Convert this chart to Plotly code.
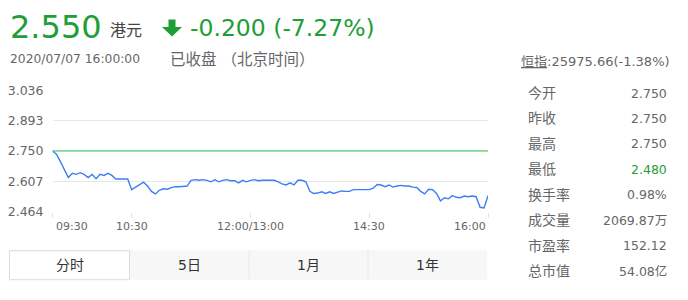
import plotly.graph_objects as go

# ---------------- data ----------------
minutes = list(range(0, 331, 3))
prices = [
    2.750, 2.735, 2.700, 2.660, 2.625, 2.645, 2.640, 2.648, 2.640, 2.625,
    2.640, 2.620, 2.640, 2.635, 2.645, 2.635, 2.618, 2.618, 2.618, 2.618,
    2.568, 2.580, 2.590, 2.603, 2.585, 2.560, 2.548, 2.565, 2.572, 2.570,
    2.578, 2.582, 2.582, 2.582, 2.585, 2.612, 2.615, 2.612, 2.615, 2.612,
    2.605, 2.615, 2.605, 2.612, 2.615, 2.610, 2.610, 2.600, 2.612, 2.605,
    2.612, 2.615, 2.610, 2.612, 2.612, 2.612, 2.612, 2.605, 2.595, 2.590,
    2.600, 2.590, 2.612, 2.612, 2.605, 2.560, 2.550, 2.552, 2.558, 2.550,
    2.558, 2.550, 2.555, 2.562, 2.560, 2.560, 2.568, 2.568, 2.568, 2.568,
    2.568, 2.575, 2.592, 2.590, 2.582, 2.590, 2.580, 2.585, 2.588, 2.585,
    2.585, 2.580, 2.578, 2.560, 2.548, 2.570, 2.568, 2.550, 2.515, 2.530,
    2.525, 2.540, 2.532, 2.530, 2.538, 2.535, 2.538, 2.535, 2.485, 2.482,
    2.540,
]
prev_close = 2.750
y_ticks = [2.464, 2.607, 2.750, 2.893, 3.036]
x_tick_minutes = [0, 60, 150, 240, 330]
x_tick_labels = ["09:30", "10:30", "12:00/13:00", "14:30", "16:00"]

price_now = "2.550"
currency = "港元"
change_text = "-0.200 (-7.27%)"
time_text = "2020/07/07 16:00:00"
status_text = "已收盘 （北京时间）"
index_text = "<u>恒指</u>:25975.66(-1.38%)"
stat_labels = ["今开", "昨收", "最高", "最低", "换手率", "成交量", "市盈率", "总市值"]
stat_values = ["2.750", "2.750", "2.750", "2.480", "0.98%", "2069.87万", "152.12", "54.08亿"]
tabs = ["分时", "5日", "1月", "1年"]

# ---------------- styling ----------------
W, H = 688, 300
GREEN = "#1e9e36"
LINE_GREEN = "#33c552"
BLUE = "#3d7ef5"
GREY = "#666666"
FONT = "'DejaVu Sans', 'Noto Sans CJK SC', sans-serif"


def px(x):
    return x / W


def py(y):
    return 1 - y / H


fig = go.Figure()
fig.add_trace(go.Scatter(x=[x_tick_minutes[0], x_tick_minutes[-1]], y=[prev_close, prev_close],
                         mode="lines", line=dict(color=LINE_GREEN, width=1.2), hoverinfo="skip"))
fig.add_trace(go.Scatter(x=minutes, y=prices, mode="lines",
                         line=dict(color=BLUE, width=1.4), hoverinfo="skip"))

fig.update_layout(
    width=W, height=H, margin=dict(l=0, r=0, t=0, b=0),
    paper_bgcolor="white", plot_bgcolor="white", showlegend=False,
    font=dict(family=FONT, color=GREY),
    xaxis=dict(domain=[px(52.5), px(488)], range=[x_tick_minutes[0], x_tick_minutes[-1]],
               tickvals=x_tick_minutes, showticklabels=False, ticks="outside", ticklen=5,
               tickcolor="#e3e3e3", showgrid=False, zeroline=False, showline=False, fixedrange=True),
    yaxis=dict(domain=[py(214.5), py(86.5)], range=[y_ticks[0], y_ticks[-1]],
               tickvals=y_ticks, ticktext=[f"{v:.3f}" for v in y_ticks],
               tickfont=dict(size=12.5, color=GREY), ticks="", ticklabelstandoff=8,
               showgrid=True, gridcolor="#e8e8e8", gridwidth=1, zeroline=False, showline=False,
               fixedrange=True),
)

ann = []
# x tick labels
anchors = ["left", "center", "center", "center", "right"]
for m, lab, a in zip(x_tick_minutes, x_tick_labels, anchors):
    ann.append(dict(x=m, y=py(230), xref="x", yref="paper", text=lab, showarrow=False,
                    xanchor=a, yanchor="middle", xshift=1 if a == "left" else 0,
                    font=dict(size=11, color=GREY)))


def txt(x, y, text, size, color=GREY, anchor="left"):
    ann.append(dict(x=px(x), y=py(y), xref="paper", yref="paper", text=text, showarrow=False,
                    xanchor=anchor, yanchor="middle", font=dict(size=size, color=color)))


# header
txt(8, 20, price_now, 32, GREEN)
txt(108, 23.5, currency, 16, "#444444")
txt(188, 21, change_text, 23.5, GREEN)
txt(8, 54, time_text, 12.3)
txt(168, 54, status_text, 15.5)

# right panel
txt(519, 56, index_text, 13)
for i, (lab, val) in enumerate(zip(stat_labels, stat_values)):
    yy = 89.5 + 26.8 * i
    txt(526, yy, lab, 14)
    txt(669, yy, val, 12.5, GREEN if lab == "最低" else GREY, "right")

# tabs
tab_edges = [9.5, 129.5, 249, 368, 487]
shapes = []
shapes.append(dict(type="rect", xref="paper", yref="paper", x0=px(tab_edges[1]), x1=px(tab_edges[-1]),
                   y0=py(286), y1=py(255), fillcolor="#f7f7f7", line=dict(width=0), layer="below"))
for xe in tab_edges[2:4]:
    shapes.append(dict(type="line", xref="paper", yref="paper", x0=px(xe), x1=px(xe),
                       y0=py(286), y1=py(255), line=dict(color="#e8e8e8", width=1)))
shapes.append(dict(type="rect", xref="paper", yref="paper", x0=px(tab_edges[0]), x1=px(tab_edges[1]),
                   y0=py(286), y1=py(255.5), fillcolor="white", line=dict(color="#dcdcdc", width=1)))
for i, t in enumerate(tabs):
    cx = (tab_edges[i] + tab_edges[i + 1]) / 2
    txt(cx, 270.5, t, 14, "#333333", "center")

# down arrow
ax0 = 162
arrow_path = (f"M {px(ax0+6.5)},{py(12)} L {px(ax0+13.5)},{py(12)} L {px(ax0+13.5)},{py(20)} "
              f"L {px(ax0+20)},{py(20)} L {px(ax0+10)},{py(30)} L {px(ax0)},{py(20)} "
              f"L {px(ax0+6.5)},{py(20)} Z")
shapes.append(dict(type="path", xref="paper", yref="paper", path=arrow_path,
                   fillcolor=GREEN, line=dict(width=0)))

fig.update_layout(annotations=ann, shapes=shapes)
fig.write_html("out.html")
